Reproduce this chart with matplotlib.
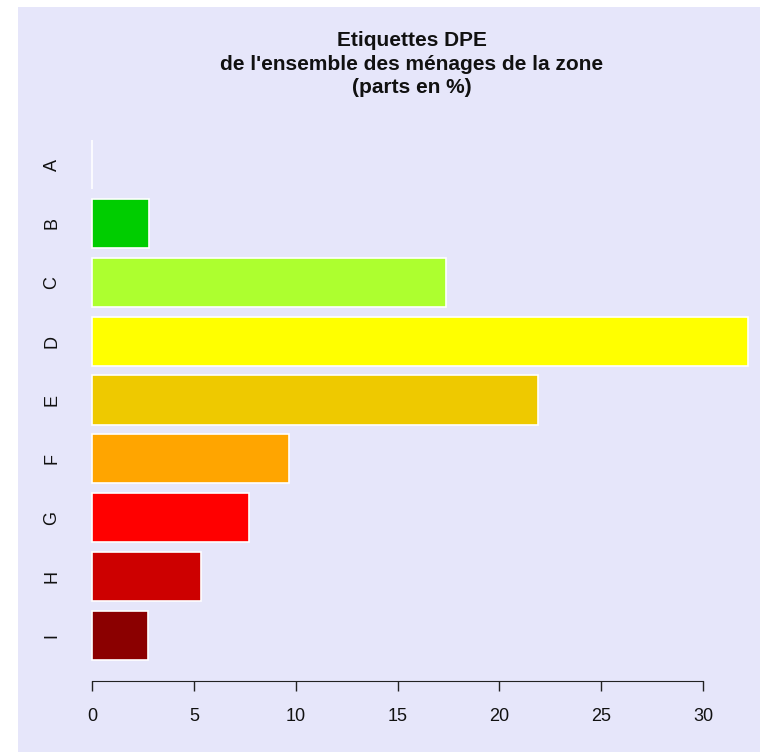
import matplotlib
matplotlib.use("Agg")
import matplotlib.pyplot as plt
from matplotlib.patches import Rectangle

categories = ["A", "B", "C", "D", "E", "F", "G", "H", "I"]
values = [0.0, 2.8, 17.4, 32.2, 21.9, 9.65, 7.7, 5.35, 2.75]
colors = ["#00FF00", "#00CD00", "#ADFF2F", "#FFFF00", "#EEC900", "#FFA500", "#FF0000", "#CD0000", "#8B0000"]
xticks = [0, 5, 10, 15, 20, 25, 30]
title = "Etiquettes DPE\nde l'ensemble des ménages de la zone\n(parts en %)"

W, H = 760, 752
fig = plt.figure(figsize=(W / 100, H / 100), dpi=100, facecolor="white")
fig.patches.append(Rectangle((18 / W, 0), 1 - 18 / W, (H - 7) / H, transform=fig.transFigure,
                             facecolor="#E6E6FA", edgecolor="none", zorder=-10))

plt.rcParams["font.family"] = ["Liberation Sans", "DejaVu Sans"]

# axes geometry (pixels)
x0_px = 92.0
px_per_x = 20.37
xmin = -1.0
left_px = x0_px + xmin * px_per_x
xmax = (W - x0_px) / px_per_x
y_top_px, y_bot_px = 140.0, 669.8  # y=10.8 and y=0
ax = fig.add_axes([left_px / W, (H - y_bot_px) / H, (W - left_px) / W, (y_bot_px - y_top_px) / H])
ax.set_facecolor("none")

n = len(categories)
ypos = [0.7 + 1.2 * (n - 1 - i) for i in range(n)]
ax.barh(ypos, values, height=1.0, color=colors, edgecolor="white", linewidth=1.2, clip_on=False)
ax.set_xlim(xmin, xmax)
ax.set_ylim(0, 10.8)

for s in ["top", "right", "left"]:
    ax.spines[s].set_visible(False)
ax.spines["bottom"].set_position(("outward", 8))
ax.spines["bottom"].set_bounds(0, 30)
ax.spines["bottom"].set_color("#222222")
ax.set_xticks(xticks)
ax.set_xticklabels([str(t) for t in xticks])
ax.tick_params(axis="x", length=7.5, width=1, color="#222222", pad=12, labelsize=13, labelcolor="#111111")
ax.set_yticks(ypos)
ax.set_yticklabels(categories, rotation=90, va="center")
ax.tick_params(axis="y", length=0, pad=8, labelsize=13, labelcolor="#111111")

fig.text(412 / W, 1 - 64 / H, title, ha="center", va="center", fontsize=15, fontweight="bold",
         linespacing=1.3, color="#111111")

fig.savefig("out.png", dpi=100, facecolor=fig.get_facecolor())
